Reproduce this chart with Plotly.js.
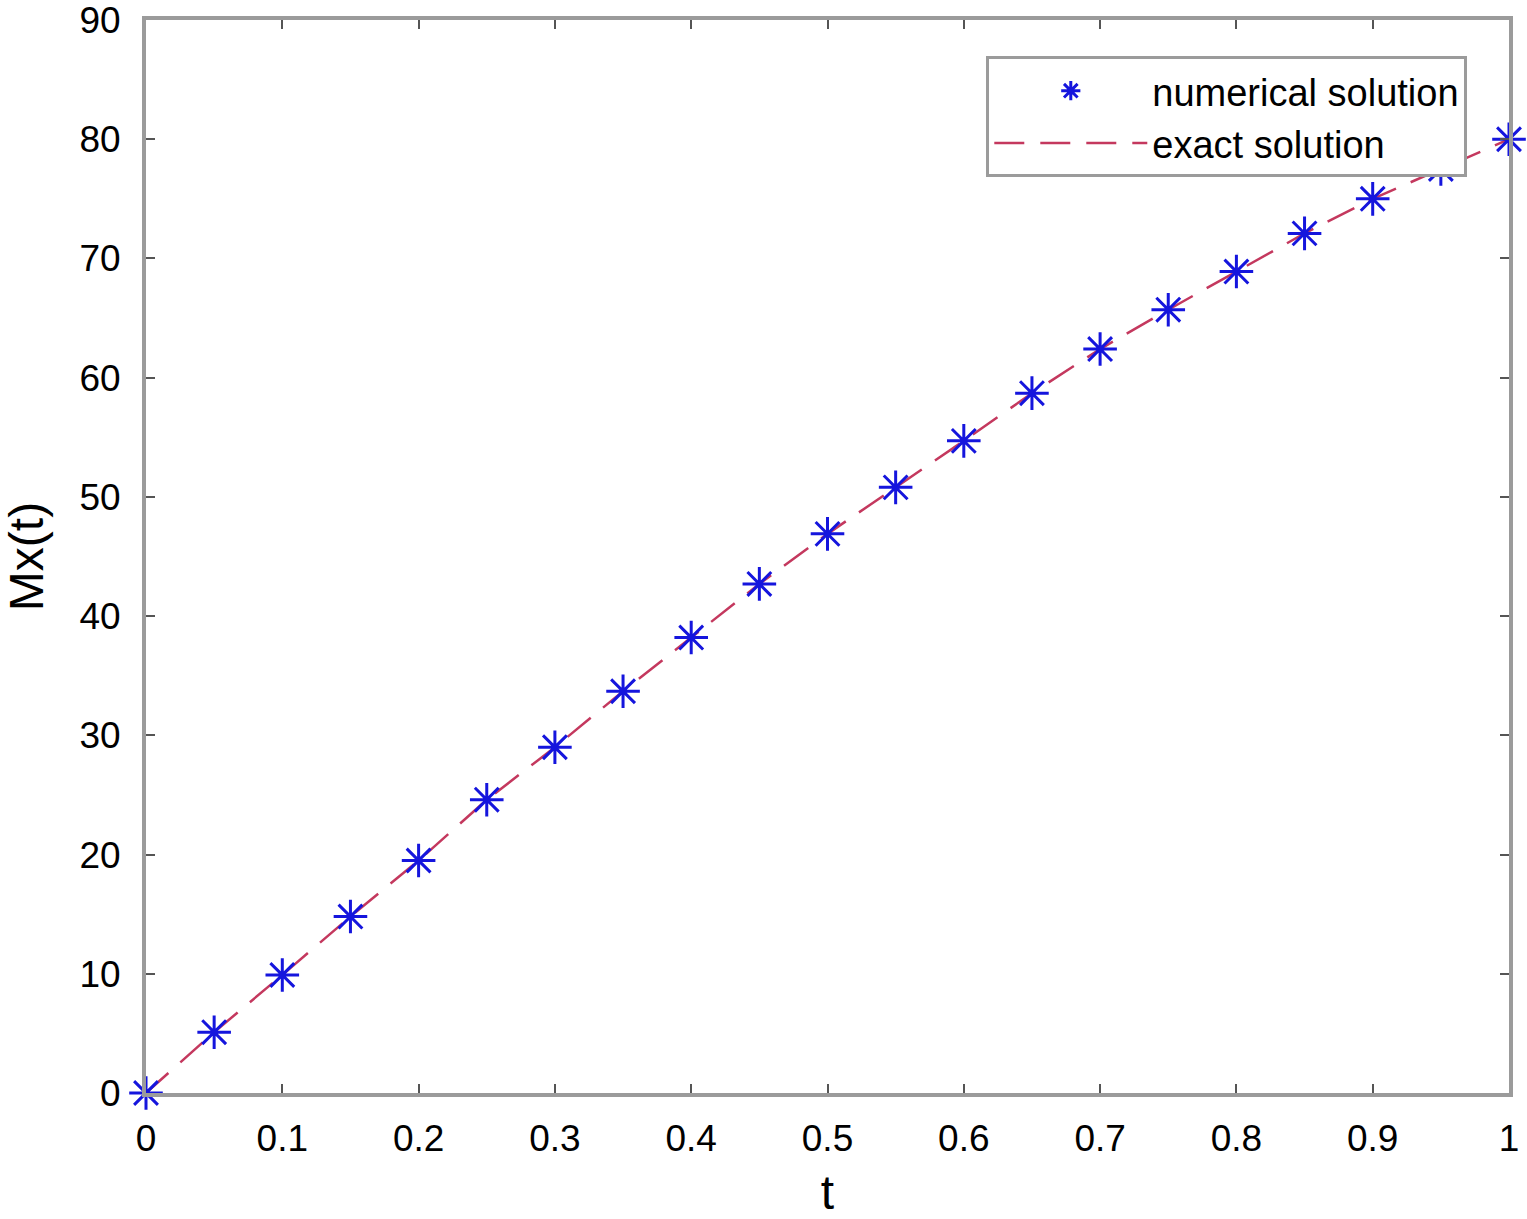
<!DOCTYPE html>
<html><head><meta charset="utf-8">
<script src="https://cdn.plot.ly/plotly-3.0.1.min.js"></script>
<style>html,body{margin:0;padding:0;background:#fff}#chart{width:1527px;height:1219px}</style>
</head><body><div id="chart"></div>
<script>
const tValues = [0,0.05,0.1,0.15,0.2,0.25,0.3,0.35,0.4,0.45,0.5,0.55,0.6,0.65,0.7,0.75,0.8,0.85,0.9,0.95,1.0];
const numericalValues = [0,5.1,9.9,14.8,19.5,24.6,29.0,33.7,38.2,42.7,46.9,50.8,54.7,58.7,62.4,65.7,68.9,72.1,75.0,77.5,80.0];
const exactValues = [0,5.1,9.9,14.8,19.5,24.6,29.0,33.7,38.2,42.7,46.9,50.8,54.7,58.7,62.4,65.7,68.9,72.1,75.0,77.5,80.0];
const xTickVals = [0,0.1,0.2,0.3,0.4,0.5,0.6,0.7,0.8,0.9,1];
const xTickText = ['0','0.1','0.2','0.3','0.4','0.5','0.6','0.7','0.8','0.9','1'];
const yTickVals = [0,10,20,30,40,50,60,70,80,90];

const font = "Liberation Sans, Arial, sans-serif";
const traces = [
  {x:tValues, y:exactValues, mode:'lines', name:'exact solution', cliponaxis:false,
   line:{color:'#c4385e', width:2.5, dash:'30px,16px'}},
  {x:tValues, y:numericalValues, mode:'markers', name:'numerical solution', cliponaxis:false,
   marker:{symbol:'asterisk-open', size:28, color:'#1515dd', line:{color:'#1515dd', width:3}}}
];
const axisCommon = {
  showgrid:false, zeroline:false, showline:true, linecolor:'#9b9b9b', linewidth:4,
  mirror:'ticks', ticks:'inside', ticklen:9, tickwidth:2, tickcolor:'#555',
  ticklabeloverflow:'allow',
  tickfont:{family:font, size:37, color:'#000'}
};
const layout = {
  width:1527, height:1219,
  margin:{l:146, r:18, t:20, b:126},
  paper_bgcolor:'#fff', plot_bgcolor:'#fff',
  xaxis:Object.assign({}, axisCommon, {range:[0,1], tickvals:xTickVals, ticktext:xTickText,
    ticklabelstandoff:10,
    title:{text:'t', font:{family:font, size:48, color:'#000'}, standoff:20}}),
  yaxis:Object.assign({}, axisCommon, {range:[0,90], tickvals:yTickVals,
    ticklabelstandoff:14,
    title:{text:'Mx(t)', font:{family:font, size:48, color:'#000'}, standoff:24}}),
  showlegend:true,
  legend:{x:0.6165, y:0.966, xanchor:'left', yanchor:'top', bgcolor:'#fff',
    bordercolor:'#9b9b9b', borderwidth:3, traceorder:'reversed',
    itemwidth:153, font:{family:font, size:38, color:'#000'}, tracegroupgap:0}
};
Plotly.newPlot('chart', traces, layout, {displayModeBar:false, staticPlot:true});
</script></body></html>
